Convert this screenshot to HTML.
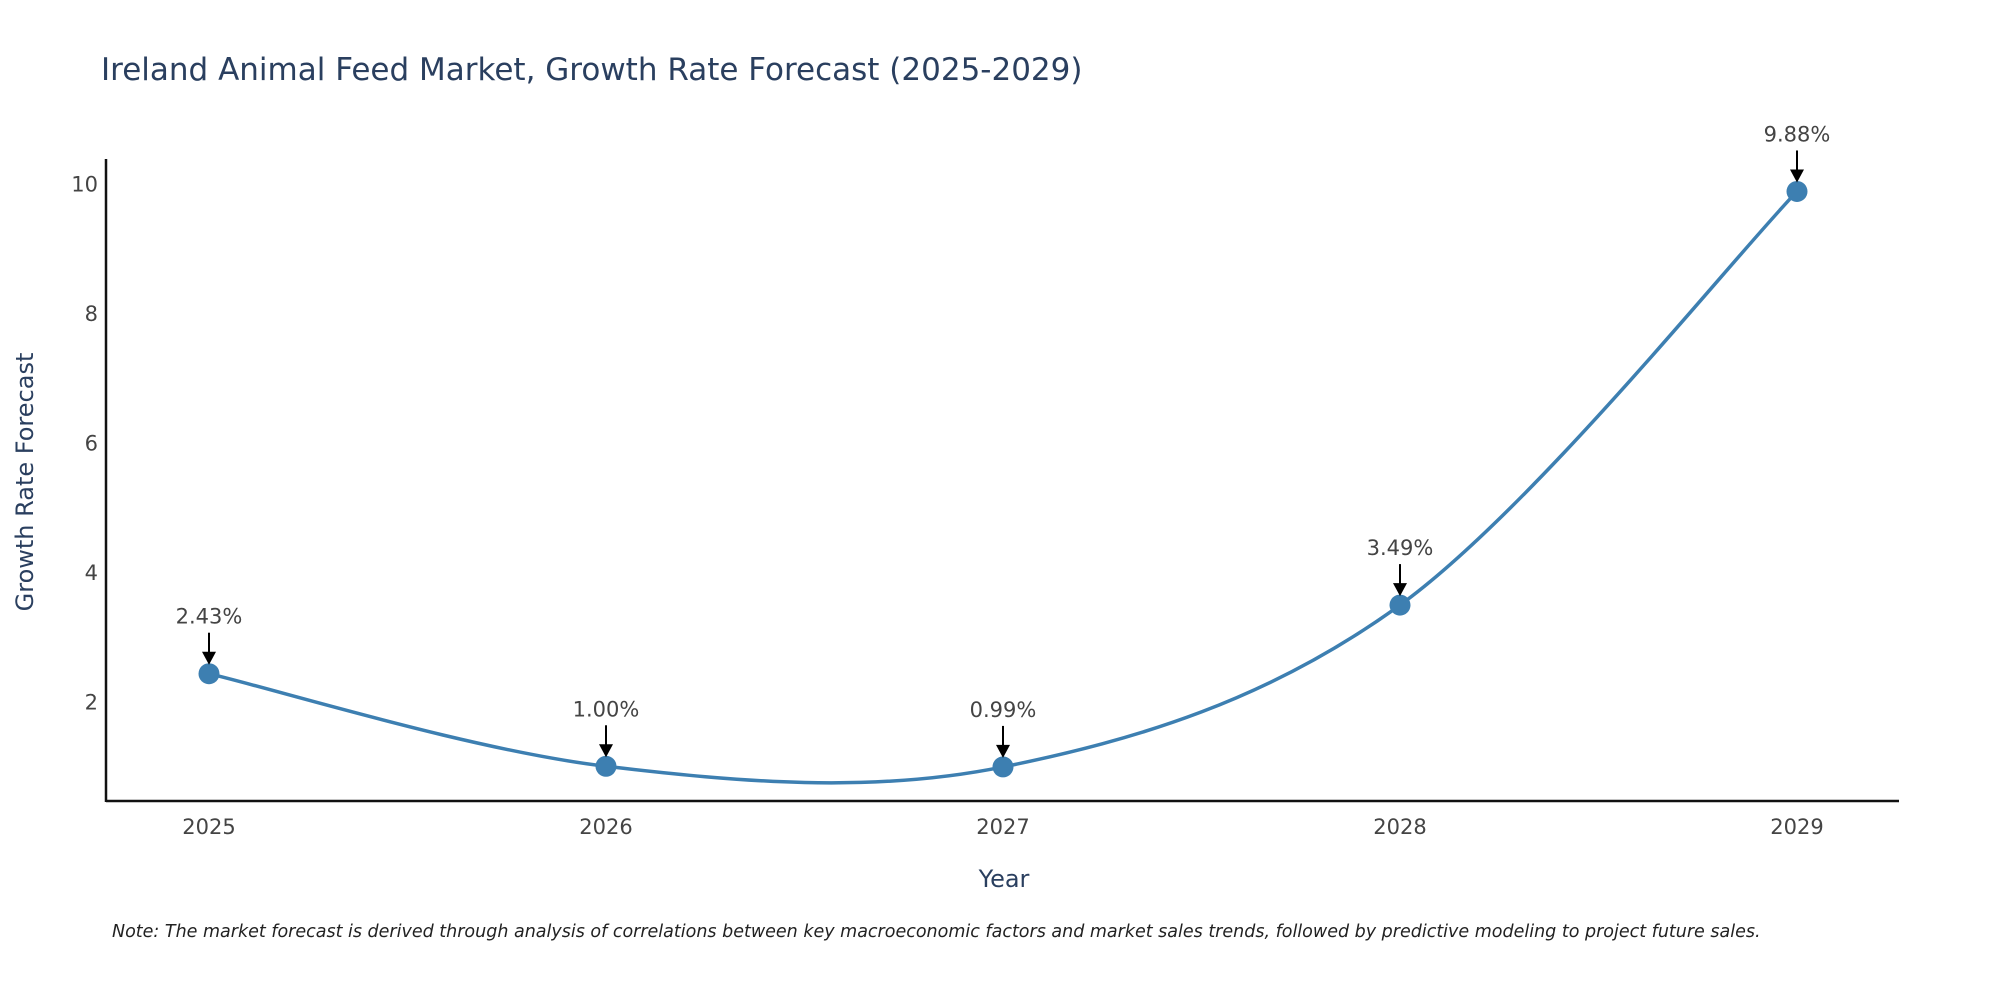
<!DOCTYPE html>
<html><head><meta charset="utf-8">
<style>
html,body{margin:0;padding:0;background:#fff;}
svg{display:block;font-family:"DejaVu Sans","Liberation Sans",sans-serif;}
</style></head>
<body>
<svg id="chart" width="2000" height="1000" viewBox="0 0 2000 1000" xmlns="http://www.w3.org/2000/svg">
<text x="101" y="80" font-size="31" fill="#2a3f5f">Ireland Animal Feed Market, Growth Rate Forecast (2025-2029)</text>
<g id="plot"></g>
<text x="1004" y="887" font-size="24" fill="#2a3f5f" text-anchor="middle">Year</text>
<text transform="translate(33,482) rotate(-90)" font-size="24" fill="#2a3f5f" text-anchor="middle">Growth Rate Forecast</text>
<text x="112" y="937" font-size="17.5" font-style="italic" fill="#222">Note: The market forecast is derived through analysis of correlations between key macroeconomic factors and market sales trends, followed by predictive modeling to project future sales.</text>
</svg>
<script>
const years = ["2025","2026","2027","2028","2029"];
const growth = [2.43, 1.00, 0.99, 3.49, 9.88];
const yTicks = [2,4,6,8,10];

const NS="http://www.w3.org/2000/svg";
const g=document.getElementById('plot');
const x0=209, dx=397;
const xs=i=>x0+i*dx;
const ys=v=>831-v*64.73;
function mk(t,a){const e=document.createElementNS(NS,t);for(const k in a)e.setAttribute(k,a[k]);g.appendChild(e);return e;}

let ax=mk('line',{x1:106,y1:801,x2:1899,y2:801,stroke:'#111','stroke-width':2.5});


let ay=mk('line',{x1:106,y1:159,x2:106,y2:802,stroke:'#111','stroke-width':2.5});



yTicks.forEach(v=>{
  const t=mk('text',{x:98,y:ys(v)+8,'font-size':21,fill:'#444','text-anchor':'end'});
  t.textContent=v;
  
  
});
years.forEach((y,i)=>{
  const t=mk('text',{x:xs(i),y:834,'font-size':21,fill:'#444','text-anchor':'middle'});
  t.textContent=y;
  
  
});

const P=growth.map((v,i)=>[xs(i),ys(v)]);
let d=`M${P[0][0]},${P[0][1]}`;
for(let i=0;i<P.length-1;i++){
  const p0=P[i-1]||P[i],p1=P[i],p2=P[i+1],p3=P[i+2]||P[i+1];
  const c1=[p1[0]+(p2[0]-p0[0])/6,p1[1]+(p2[1]-p0[1])/6];
  const c2=[p2[0]-(p3[0]-p1[0])/6,p2[1]-(p3[1]-p1[1])/6];
  d+=` C${c1[0]},${c1[1]} ${c2[0]},${c2[1]} ${p2[0]},${p2[1]}`;
}
const line=mk('path',{d:d,fill:'none',stroke:'#3d7fb1','stroke-width':3.5});



P.forEach((p,i)=>{
  const c=mk('circle',{cx:p[0],cy:p[1],r:10.5,fill:'#3d7fb1'});
  
  
  const a=mk('line',{x1:p[0],y1:p[1]-41,x2:p[0],y2:p[1]-20,stroke:'#000','stroke-width':2});
  
  
  const h=mk('path',{d:`M${p[0]-7},${p[1]-22} L${p[0]+7},${p[1]-22} L${p[0]},${p[1]-9} Z`,fill:'#000'});
  
  
  const t=mk('text',{x:p[0],y:p[1]-50,'font-size':21,fill:'#444','text-anchor':'middle'});
  t.textContent=growth[i].toFixed(2)+'%';
  
  
});
</script>
</body></html>
